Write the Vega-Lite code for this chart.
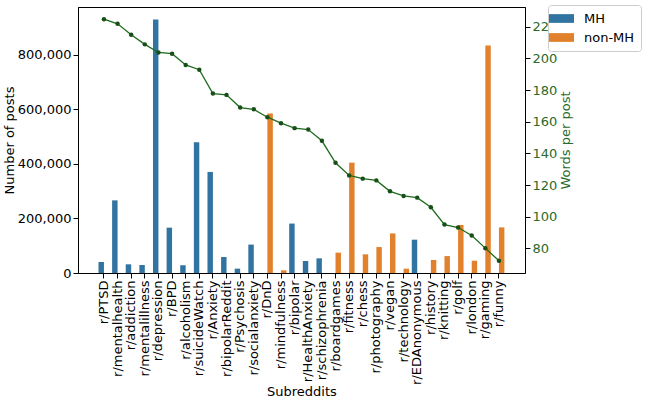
{
  "$schema": "https://vega.github.io/schema/vega-lite/v6.json",
  "autosize": {"type": "none"},
  "padding": {"left": 78, "top": 7, "right": 123, "bottom": 128},
  "width": 447,
  "height": 266,
  "background": "white",
  "config": {
    "view": {"stroke": "black", "strokeWidth": 1},
    "font": "DejaVu Sans",
    "axis": {
      "domainColor": "black",
      "tickColor": "black",
      "tickSize": 5,
      "labelFont": "DejaVu Sans",
      "labelFontSize": 13,
      "labelColor": "black",
      "titleFont": "DejaVu Sans",
      "titleFontSize": 13,
      "titleFontWeight": "normal",
      "titleColor": "black",
      "grid": false,
      "labelPadding": 2
    }
  },
  "data": {
    "values": [
      {"sub": "r/PTSD", "type": "MH", "posts": 40300, "wpp": 224.8},
      {"sub": "r/mentalhealth", "type": "MH", "posts": 266000, "wpp": 221.9},
      {"sub": "r/addiction", "type": "MH", "posts": 31800, "wpp": 215.0},
      {"sub": "r/mentalillness", "type": "MH", "posts": 29300, "wpp": 208.9},
      {"sub": "r/depression", "type": "MH", "posts": 928000, "wpp": 203.8},
      {"sub": "r/BPD", "type": "MH", "posts": 166000, "wpp": 203.0},
      {"sub": "r/alcoholism", "type": "MH", "posts": 28000, "wpp": 195.9},
      {"sub": "r/suicideWatch", "type": "MH", "posts": 479000, "wpp": 192.9},
      {"sub": "r/Anxiety", "type": "MH", "posts": 370000, "wpp": 177.8},
      {"sub": "r/bipolarReddit", "type": "MH", "posts": 58600, "wpp": 177.0},
      {"sub": "r/Psychosis", "type": "MH", "posts": 15900, "wpp": 169.0},
      {"sub": "r/socialanxiety", "type": "MH", "posts": 104000, "wpp": 167.9},
      {"sub": "r/DnD", "type": "non-MH", "posts": 584000, "wpp": 162.9},
      {"sub": "r/mindfulness", "type": "non-MH", "posts": 9800, "wpp": 159.1},
      {"sub": "r/bipolar", "type": "MH", "posts": 181000, "wpp": 156.0},
      {"sub": "r/HealthAnxiety", "type": "MH", "posts": 44000, "wpp": 155.1},
      {"sub": "r/schizophrenia", "type": "MH", "posts": 53700, "wpp": 148.0},
      {"sub": "r/boardgames", "type": "non-MH", "posts": 74500, "wpp": 134.1},
      {"sub": "r/fitness", "type": "non-MH", "posts": 404000, "wpp": 126.1},
      {"sub": "r/chess", "type": "non-MH", "posts": 68400, "wpp": 124.1},
      {"sub": "r/photography", "type": "non-MH", "posts": 95000, "wpp": 123.0},
      {"sub": "r/vegan", "type": "non-MH", "posts": 145000, "wpp": 116.1},
      {"sub": "r/technology", "type": "non-MH", "posts": 15900, "wpp": 113.2},
      {"sub": "r/EDAnonymous", "type": "MH", "posts": 122000, "wpp": 112.1},
      {"sub": "r/history", "type": "non-MH", "posts": 47600, "wpp": 106.0},
      {"sub": "r/knitting", "type": "non-MH", "posts": 62000, "wpp": 95.1},
      {"sub": "r/golf", "type": "non-MH", "posts": 176000, "wpp": 93.2},
      {"sub": "r/london", "type": "non-MH", "posts": 45000, "wpp": 88.2},
      {"sub": "r/gaming", "type": "non-MH", "posts": 833000, "wpp": 80.2},
      {"sub": "r/funny", "type": "non-MH", "posts": 167000, "wpp": 72.2}
    ]
  },
  "layer": [
    {
      "mark": {"type": "bar"},
      "encoding": {
        "x": {
          "field": "sub",
          "type": "nominal",
          "sort": null,
          "scale": {"type": "band", "paddingInner": 0.2, "paddingOuter": 0, "range": [20.5, 426.4]},
          "axis": {"labelAngle": -90, "title": "Subreddits", "titlePadding": 1}
        },
        "xOffset": {
          "field": "type",
          "type": "nominal",
          "scale": {"domain": ["MH", "non-MH"], "paddingInner": 0, "paddingOuter": 0}
        },
        "y": {
          "field": "posts",
          "type": "quantitative",
          "scale": {"domain": [0, 974000], "nice": false, "zero": true},
          "axis": {
            "title": "Number of posts",
            "values": [0, 200000, 400000, 600000, 800000],
            "format": ",d",
            "titlePadding": 1
          }
        },
        "color": {
          "field": "type",
          "type": "nominal",
          "scale": {"domain": ["MH", "non-MH"], "range": ["#3274a1", "#e1812c"]},
          "legend": {
            "title": null,
            "orient": "none",
            "legendX": 470,
            "legendY": -2,
            "symbolType": "M-1.667,-0.583H1.667V0.583H-1.667Z",
            "symbolSize": 225,
            "symbolStrokeWidth": 0,
            "labelFontSize": 13,
            "labelFont": "DejaVu Sans",
            "labelColor": "black",
            "labelOffset": 15,
            "rowPadding": 4,
            "padding": 6,
            "strokeColor": "#cccccc",
            "fillColor": "white",
            "cornerRadius": 3
          }
        }
      }
    },
    {
      "mark": {
        "type": "line",
        "color": "#1e6b1e",
        "strokeWidth": 1.3,
        "point": {"filled": true, "color": "#174f17", "size": 20, "opacity": 1}
      },
      "encoding": {
        "x": {"field": "sub", "type": "nominal", "sort": null, "bandPosition": 0.5},
        "y": {
          "field": "wpp",
          "type": "quantitative",
          "scale": {"domain": [64.5, 232.5], "nice": false, "zero": false},
          "axis": {
            "orient": "right",
            "title": "Words per post",
            "titleAngle": -90,
            "titleColor": "#2a6a2a",
            "labelColor": "#2a6a2a",
            "values": [80, 100, 120, 140, 160, 180, 200, 220],
            "titlePadding": 16
          }
        }
      }
    }
  ],
  "resolve": {"scale": {"y": "independent"}}
}
